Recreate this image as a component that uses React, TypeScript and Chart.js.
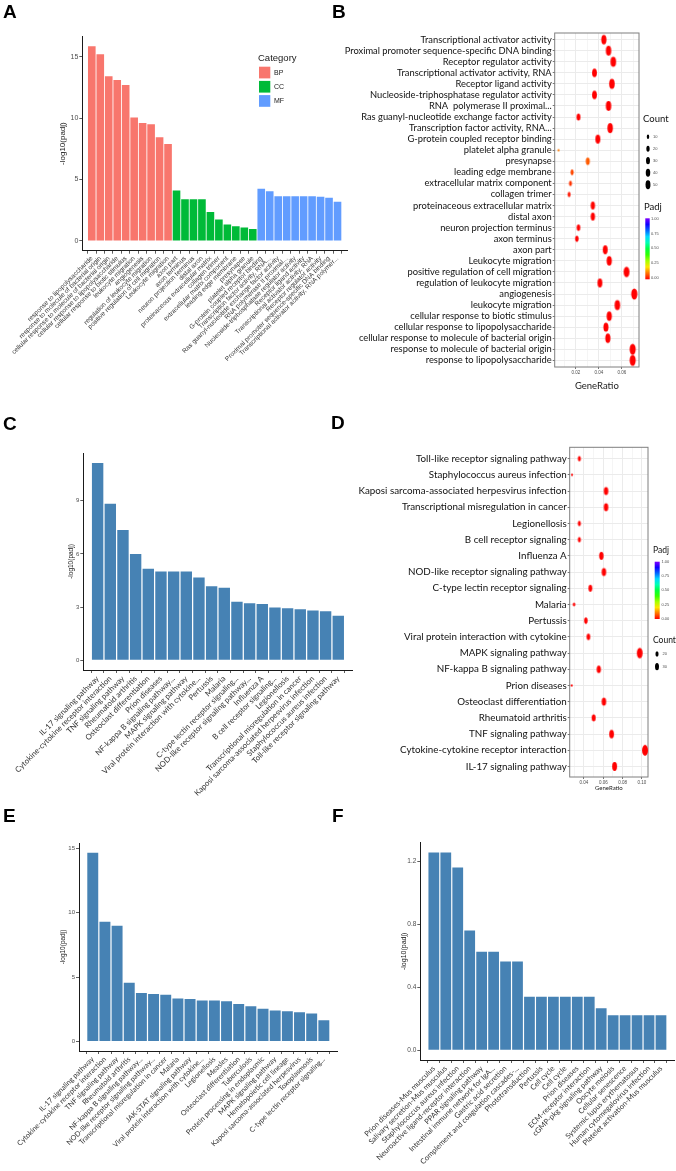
import React, { useEffect, useRef } from 'react';
import { Chart, registerables } from 'chart.js';

Chart.register(...registerables);

const ARIAL = '"Liberation Sans", Arial, Helvetica, sans-serif';
const LATO = 'Lato, "Open Sans", "Liberation Sans", sans-serif';

/* ---------------- Panel A : GO bars ---------------- */
const goTermsA = [
  'response to lipopolysaccharide',
  'response to molecule of bacterial origin',
  'cellular response to molecule of bacterial origin',
  'cellular response to lipopolysaccharide',
  'cellular response to biotic stimulus',
  'leukocyte migration',
  'angiogenesis',
  'regulation of leukocyte migration',
  'positive regulation of cell migration',
  'Leukocyte migration',
  'axon part',
  'axon terminus',
  'neuron projection terminus',
  'distal axon',
  'proteinaceous extracellular matrix',
  'collagen trimer',
  'extracellular matrix component',
  'leading edge membrane',
  'presynapse',
  'platelet alpha granule',
  'G-protein coupled receptor binding',
  'Transcription factor activity, RNA...',
  'Ras guanyl-nucleotide exchange factor activity',
  'RNA polymerase II proximal...',
  'Nucleoside-triphosphatase regulator activity',
  'Receptor ligand activity',
  'Transcriptional activator activity, RNA',
  'Receptor regulator activity',
  'Proximal promoter sequence-specific DNA binding',
  'Transcriptional activator activity, RNA polymer...',
];
const goBP = [15.85, 15.2, 13.4, 13.1, 12.7, 10.05, 9.6, 9.5, 8.45, 7.9];
const goCC = [4.1, 3.4, 3.4, 3.4, 2.35, 1.75, 1.35, 1.2, 1.1, 0.97];
const goMF = [4.26, 4.05, 3.65, 3.65, 3.65, 3.65, 3.65, 3.6, 3.52, 3.2];
const goGroups = ['BP', 'CC', 'MF'];
const goGroupColors = ['#F8766D', '#00BA38', '#619CFF'];
const goTicksA = [0, 5, 10, 15];

/* ---------------- Panel B : GO dot plot (bottom -> top) ---------------- */
const goTermsB = [
  'response to lipopolysaccharide',
  'response to molecule of bacterial origin',
  'cellular response to molecule of bacterial origin',
  'cellular response to lipopolysaccharide',
  'cellular response to biotic stimulus',
  'leukocyte migration',
  'angiogenesis',
  'regulation of leukocyte migration',
  'positive regulation of cell migration',
  'Leukocyte migration',
  'axon part',
  'axon terminus',
  'neuron projection terminus',
  'distal axon',
  'proteinaceous extracellular matrix',
  'collagen trimer',
  'extracellular matrix component',
  'leading edge membrane',
  'presynapse',
  'platelet alpha granule',
  'G-protein coupled receptor binding',
  'Transcription factor activity, RNA...',
  'Ras guanyl-nucleotide exchange factor activity',
  'RNA  polymerase II proximal...',
  'Nucleoside-triphosphatase regulator activity',
  'Receptor ligand activity',
  'Transcriptional activator activity, RNA',
  'Receptor regulator activity',
  'Proximal promoter sequence-specific DNA binding',
  'Transcriptional activator activity',
];
const geneRatioB = [
  0.0693, 0.0693, 0.0478, 0.0461, 0.049, 0.056, 0.0707, 0.0409, 0.064, 0.049,
  0.0455, 0.0209, 0.0223, 0.0348, 0.0348, 0.0142, 0.0154, 0.0168, 0.0304, 0.005,
  0.0391, 0.0498, 0.0223, 0.0484, 0.0362, 0.0513, 0.0362, 0.0525, 0.0484, 0.0443,
];
const countB = [
  49, 49, 33, 32, 34, 39, 50, 29, 45, 34,
  29, 13, 14, 22, 22, 9, 10, 11, 19, 3,
  30, 38, 17, 37, 28, 39, 28, 40, 37, 34,
];
const padjB = [
  1e-16, 1e-15, 4e-14, 6e-14, 2e-13, 8e-11, 2e-10, 3e-10, 3e-9, 1e-8,
  8e-5, 4e-4, 4e-4, 4e-4, 0.0045, 0.018, 0.045, 0.063, 0.079, 0.107,
  5e-5, 9e-5, 2e-4, 2e-4, 2e-4, 2e-4, 2e-4, 2.5e-4, 3e-4, 6e-4,
];
const ratioMajorB = [0.02, 0.04, 0.06];
const ratioGridB = [0.01, 0.02, 0.03, 0.04, 0.05, 0.06, 0.07];
const countLegendB = [10, 20, 30, 40, 50];
const padjLegendTicks = [1, 0.75, 0.5, 0.25, 0];

/* ---------------- Panel C : KEGG bars ---------------- */
const keggTermsC = [
  'IL-17 signaling pathway',
  'Cytokine-cytokine receptor interaction',
  'TNF signaling pathway',
  'Rheumatoid arthritis',
  'Osteoclast differentiation',
  'Prion diseases',
  'NF-kappa B signaling pathway...',
  'MAPK signaling pathway',
  'Viral protein interaction with cytokine...',
  'Pertussis',
  'Malaria',
  'C-type lectin receptor signaling...',
  'NOD-like receptor signaling pathway...',
  'Influenza A',
  'B cell receptor signaling...',
  'Legionellosis',
  'Transcriptional misregulation in cancer',
  'Kaposi sarcoma-associated herpesvirus infection',
  'Staphylococcus aureus infection',
  'Toll-like receptor signaling pathway',
];
const keggValuesC = [11.14, 8.84, 7.35, 6.0, 5.16, 5.01, 5.01, 5.01, 4.67, 4.17, 4.09, 3.3, 3.21, 3.17, 2.97, 2.93, 2.87, 2.8, 2.76, 2.51];
const keggTicksC = [0, 3, 6, 9];

/* ---------------- Panel D : KEGG dot plot (bottom -> top) ---------------- */
const keggTermsD = [
  'IL-17 signaling pathway',
  'Cytokine-cytokine receptor interaction',
  'TNF signaling pathway',
  'Rheumatoid arthritis',
  'Osteoclast differentiation',
  'Prion diseases',
  'NF-kappa B signaling pathway',
  'MAPK signaling pathway',
  'Viral protein interaction with cytokine',
  'Pertussis',
  'Malaria',
  'C-type lectin receptor signaling',
  'NOD-like receptor signaling pathway',
  'Influenza A',
  'B cell receptor signaling',
  'Legionellosis',
  'Transcriptional misregulation in cancer',
  'Kaposi sarcoma-associated herpesvirus infection',
  'Staphylococcus aureus infection',
  'Toll-like receptor signaling pathway',
];
const geneRatioD = [0.0717, 0.1032, 0.0686, 0.05, 0.0606, 0.0272, 0.0553, 0.0977, 0.0446, 0.0419, 0.0297, 0.0466, 0.0606, 0.058, 0.0352, 0.0352, 0.0628, 0.0628, 0.0276, 0.0352];
const countD = [24, 35, 23, 17, 21, 7, 19, 33, 15, 14, 9, 16, 21, 20, 12, 12, 21, 21, 7, 12];
const padjD = [7e-12, 1.4e-9, 4.5e-8, 1e-6, 7e-6, 1e-5, 1e-5, 1e-5, 2e-5, 7e-5, 8e-5, 5e-4, 6e-4, 7e-4, 1.1e-3, 1.2e-3, 1.3e-3, 1.6e-3, 1.7e-3, 3.1e-3];
const ratioMajorD = [0.04, 0.06, 0.08, 0.1];
const ratioGridD = [0.03, 0.04, 0.05, 0.06, 0.07, 0.08, 0.09, 0.1];
const countLegendD = [20, 30];

/* ---------------- Panel E : KEGG bars ---------------- */
const keggTermsE = [
  'IL-17 signaling pathway',
  'Cytokine-cytokine receptor interaction',
  'TNF signaling pathway',
  'Rheumatoid arthritis',
  'NF-kappa B signaling pathway...',
  'NOD-like receptor signaling pathway...',
  'Transcriptional misregulation in cancer',
  'Malaria',
  'JAK-STAT signaling pathway',
  'Viral protein interaction with cytokine...',
  'Legionellosis',
  'Measles',
  'Osteoclast differentiation',
  'Tuberculosis',
  'Protein processing in endoplasmic',
  'MAPK signaling pathway',
  'Hematopoietic cell lineage',
  'Kaposi sarcoma-associated herpesvirus',
  'Toxoplasmosis',
  'C-type lectin receptor signaling...',
];
const keggValuesE = [14.64, 9.28, 8.97, 4.56, 3.77, 3.69, 3.63, 3.33, 3.3, 3.19, 3.19, 3.12, 2.92, 2.73, 2.55, 2.4, 2.35, 2.27, 2.17, 1.65];
const keggTicksE = [0, 5, 10, 15];

/* ---------------- Panel F : KEGG bars ---------------- */
const keggTermsF = [
  'Prion diseases-Mus musculus',
  'Salivary secretion-Mus musculus',
  'Staphylococcus aureus infection',
  'Neuroactive ligand-receptor interaction',
  'PPAR signaling pathway',
  'Intestinal immune network for IgA...',
  'Gastric acid secretion',
  'Complement and coagulation cascades-...',
  'Phototransduction',
  'Pertussis',
  'Cell cycle',
  'Cell cycle',
  'Prion diseases',
  'ECM-receptor interaction',
  'cGMP-pkg signaling pathway',
  'Oocyte meiosis',
  'Cellular senescence',
  'Systemic lupus erythematosus',
  'Human cytomegalovirus infection',
  'Platelet activation-Mus musculus',
];
const keggValuesF = [1.255, 1.255, 1.16, 0.76, 0.626, 0.626, 0.563, 0.563, 0.34, 0.34, 0.34, 0.34, 0.34, 0.34, 0.267, 0.222, 0.222, 0.222, 0.222, 0.222];
const keggTicksF = [0, 0.4, 0.8, 1.2];

/* ---------------- helpers ---------------- */
function padjColor(p: number) {
  const t = Math.max(0, Math.min(1, p));
  return `hsl(${(t * 270).toFixed(1)}, 100%, 50%)`;
}

function ellipseSprite(rx: number, ry: number, color: string) {
  const w = Math.ceil(rx * 2) + 2;
  const h = Math.ceil(ry * 2) + 2;
  const c = document.createElement('canvas');
  c.width = w;
  c.height = h;
  const g = c.getContext('2d')!;
  g.fillStyle = color;
  g.beginPath();
  g.ellipse(w / 2, h / 2, rx, ry, 0, 0, Math.PI * 2);
  g.fill();
  return c;
}

function drawEllipse(ctx: CanvasRenderingContext2D, x: number, y: number, rx: number, ry: number, color: string) {
  ctx.fillStyle = color;
  ctx.beginPath();
  ctx.ellipse(x, y, rx, ry, 0, 0, Math.PI * 2);
  ctx.fill();
}

function drawColorbar(ctx: CanvasRenderingContext2D, x: number, y: number, w: number, h: number) {
  const g = ctx.createLinearGradient(0, y + h, 0, y);
  for (let i = 0; i <= 10; i++) g.addColorStop(i / 10, padjColor(i / 10));
  ctx.fillStyle = g;
  ctx.fillRect(x, y, w, h);
}

function sizeScale(counts: number[], rMin: number, rMax: number) {
  const cMin = Math.min(...counts);
  const cMax = Math.max(...counts);
  return (c: number) => rMin + (rMax - rMin) * Math.sqrt(Math.max(0, (c - cMin) / (cMax - cMin)));
}

const axisGrid = { display: true, drawOnChartArea: false, drawTicks: true, tickLength: 3, tickColor: '#333', tickWidth: 0.8 };
const axisBorder = { display: true, color: '#1a1a1a', width: 1 };

function buildBar(p: any) {
  const { W, H, cl, cr, ct, cb } = p.geo;
  const n = p.labels.length;
  return {
    type: 'bar',
    data: {
      datasets: p.datasets.map((d: any) => ({
        ...d,
        barPercentage: 0.9,
        categoryPercentage: 1,
        borderWidth: 0,
        grouped: false,
      })),
    },
    options: {
      responsive: false,
      animation: false,
      devicePixelRatio: 1,
      layout: { padding: { left: 0, top: ct, right: W - cr, bottom: 0 } },
      plugins: { legend: { display: false }, tooltip: { enabled: false } },
      scales: {
        x: {
          type: 'linear',
          bounds: 'data',
          min: 0.4,
          max: n + 0.6,
          afterBuildTicks: (s: any) => {
            s.ticks = p.labels.map((_: string, i: number) => ({ value: i + 1 }));
          },
          afterFit: (s: any) => {
            s.height = H - cb;
          },
          ticks: {
            autoSkip: false,
            minRotation: 45,
            maxRotation: 45,
            padding: 1,
            color: '#333',
            font: p.xFont,
            callback: (_v: any, i: number) => p.labels[i],
          },
          grid: axisGrid,
          border: axisBorder,
        },
        y: {
          type: 'linear',
          bounds: 'data',
          min: p.yMin,
          max: p.yMax,
          afterBuildTicks: (s: any) => {
            s.ticks = p.yTicks.map((v: number) => ({ value: v }));
          },
          afterFit: (s: any) => {
            s.width = cl;
          },
          ticks: {
            padding: 1,
            color: '#4d4d4d',
            font: { family: ARIAL, size: p.yTickSize },
            callback: p.yFmt || ((v: number) => String(v)),
          },
          grid: axisGrid,
          border: axisBorder,
          title: {
            display: true,
            text: '-log10(padj)',
            color: '#1a1a1a',
            font: { family: ARIAL, size: p.titleSize },
            padding: { top: p.titleX - (p.titleSize * 1.2) / 2, bottom: 0 },
          },
        },
      },
    },
    plugins: p.plugins || [],
  };
}

const boxPlugin = {
  id: 'panelBox',
  beforeDatasetsDraw(chart: any) {
    const { ctx, chartArea: a } = chart;
    ctx.save();
    ctx.strokeStyle = '#7f7f7f';
    ctx.lineWidth = 1;
    ctx.strokeRect(a.left, a.top, a.right - a.left, a.bottom - a.top);
    ctx.restore();
  },
};

function buildDot(p: any) {
  const { W, H, cl, cr, ct, cb } = p.geo;
  const size = p.size;
  const ry = p.counts.map((c: number) => Math.max(1.3, size(c)));
  const sprites = p.counts.map((_: number, i: number) =>
    ellipseSprite(Math.max(0.9, ry[i] * 0.55), ry[i], padjColor(p.padj[i]))
  );
  const isMajor = (v: number) => p.xMajor.some((m: number) => Math.abs(m - v) < 1e-9);
  return {
    type: 'scatter',
    data: {
      datasets: [
        {
          data: p.ratio.map((x: number, i: number) => ({ x, y: i + 1 })),
          pointStyle: (c: any) => sprites[c.dataIndex],
          pointRadius: (c: any) => Math.max(1, ry[c.dataIndex] || 1),
          clip: false,
        },
      ],
    },
    options: {
      responsive: false,
      animation: false,
      devicePixelRatio: 1,
      layout: { padding: { left: 0, top: ct, right: W - cr, bottom: 0 } },
      plugins: { legend: { display: false }, tooltip: { enabled: false } },
      scales: {
        x: {
          type: 'linear',
          bounds: 'data',
          min: p.xMin,
          max: p.xMax,
          afterBuildTicks: (s: any) => {
            s.ticks = p.xGrid.map((v: number) => ({ value: v }));
          },
          afterFit: (s: any) => {
            s.height = H - cb;
          },
          ticks: {
            autoSkip: false,
            minRotation: 0,
            maxRotation: 0,
            padding: 1,
            color: '#4d4d4d',
            font: { family: ARIAL, size: p.xTickSize },
            callback: (v: number) => (isMajor(v) ? v.toFixed(2) : ''),
          },
          grid: {
            color: '#ebebeb',
            lineWidth: (c: any) => (c.tick && isMajor(c.tick.value) ? 1 : 0.5),
            drawTicks: true,
            tickLength: 2,
            tickColor: (c: any) => (c.tick && isMajor(c.tick.value) ? '#777' : 'rgba(0,0,0,0)'),
          },
          border: { display: false },
          title: {
            display: true,
            text: 'GeneRatio',
            color: '#1a1a1a',
            font: { family: LATO, size: p.titleSize },
            padding: { top: 0, bottom: p.titlePadBottom },
          },
        },
        y: {
          type: 'linear',
          bounds: 'data',
          min: p.yMin,
          max: p.yMax,
          afterBuildTicks: (s: any) => {
            s.ticks = p.terms.map((_: string, i: number) => ({ value: i + 1 }));
          },
          afterFit: (s: any) => {
            s.width = cl;
          },
          ticks: {
            autoSkip: false,
            padding: 1,
            color: '#111',
            font: { family: LATO, size: p.labelSize },
            callback: (_v: any, i: number) => p.terms[i],
          },
          grid: { color: '#ebebeb', lineWidth: 1, drawTicks: true, tickLength: 2, tickColor: '#777' },
          border: { display: false },
        },
      },
    },
    plugins: [boxPlugin, p.legend],
  };
}

/* ---------------- panel builders ---------------- */
function buildA() {
  let start = 0;
  const datasets = [goBP, goCC, goMF].map((vals, g) => {
    const ds = {
      label: goGroups[g],
      backgroundColor: goGroupColors[g],
      data: vals.map((v, i) => ({ x: start + i + 1, y: v })),
    };
    start += vals.length;
    return ds;
  });
  const legendA = {
    id: 'legendA',
    afterDraw(chart: any) {
      const ctx = chart.ctx;
      ctx.save();
      ctx.textBaseline = 'middle';
      ctx.textAlign = 'left';
      ctx.fillStyle = '#1a1a1a';
      ctx.font = `9.5px ${ARIAL}`;
      ctx.fillText('Category', 258, 58);
      goGroups.forEach((g, i) => {
        const y = 66.7 + i * 14.2;
        ctx.fillStyle = goGroupColors[i];
        ctx.fillRect(259, y, 11.3, 11.7);
        ctx.fillStyle = '#1a1a1a';
        ctx.font = `7px ${ARIAL}`;
        ctx.fillText(g, 274, y + 6);
      });
      ctx.restore();
    },
  };
  return buildBar({
    geo: { W: 350, H: 390, cl: 82.3, cr: 347, ct: 36.5, cb: 250.7 },
    labels: goTermsA,
    datasets,
    yMin: -0.79,
    yMax: 16.64,
    yTicks: goTicksA,
    yTickSize: 7,
    titleSize: 8,
    titleX: 63,
    xFont: { family: ARIAL, size: 6.5 },
    plugins: [legendA],
  });
}

function buildB() {
  const size = sizeScale(countB, 1, 5.6);
  const ox = 338;
  const legend = {
    id: 'legendB',
    afterDraw(chart: any) {
      const ctx = chart.ctx;
      ctx.save();
      ctx.textBaseline = 'middle';
      ctx.textAlign = 'left';
      ctx.fillStyle = '#111';
      ctx.font = `9.5px ${LATO}`;
      ctx.fillText('Count', 643 - ox, 119);
      countLegendB.forEach((c, i) => {
        const y = 136.7 + i * 12;
        const r = size(c) * 0.8;
        drawEllipse(ctx, 648 - ox, y, r * 0.55, r, '#000');
        ctx.fillStyle = '#4d4d4d';
        ctx.font = `4px ${ARIAL}`;
        ctx.fillText(String(c), 653 - ox, y);
      });
      ctx.fillStyle = '#111';
      ctx.font = `9.5px ${LATO}`;
      ctx.fillText('Padj', 644 - ox, 206.7);
      drawColorbar(ctx, 645.3 - ox, 218.3, 4.4, 61);
      ctx.fillStyle = '#4d4d4d';
      ctx.font = `4px ${ARIAL}`;
      padjLegendTicks.forEach((t) => {
        ctx.fillText(t.toFixed(2), 651 - ox, 277.7 - t * 58.7);
      });
      ctx.restore();
    },
  };
  return buildDot({
    geo: { W: 338, H: 400, cl: 216.7, cr: 301, ct: 33, cb: 367 },
    terms: goTermsB,
    ratio: geneRatioB,
    counts: countB,
    padj: padjB,
    size,
    xMin: 0.0017,
    xMax: 0.0748,
    xMajor: ratioMajorB,
    xGrid: ratioGridB,
    yMin: 0.4,
    yMax: 30.6,
    xTickSize: 4.5,
    labelSize: 9.35,
    titleSize: 9.5,
    titlePadBottom: 8,
    legend,
  });
}

function buildC() {
  return buildBar({
    geo: { W: 365, H: 410, cl: 83.3, cr: 352.6, ct: 53, cb: 270 },
    labels: keggTermsC,
    datasets: [{ label: 'KEGG', backgroundColor: '#4682B4', data: keggValuesC.map((v, i) => ({ x: i + 1, y: v })) }],
    yMin: -0.557,
    yMax: 11.7,
    yTicks: keggTicksC,
    yTickSize: 6,
    titleSize: 6.5,
    titleX: 71.5,
    xFont: { family: LATO, size: 7.8 },
  });
}

function buildD() {
  const size = sizeScale(countD, 0.9, 5.4);
  const ox = 338;
  const oy = 400;
  const legend = {
    id: 'legendD',
    afterDraw(chart: any) {
      const ctx = chart.ctx;
      ctx.save();
      ctx.textBaseline = 'middle';
      ctx.textAlign = 'left';
      ctx.fillStyle = '#111';
      ctx.font = `8.5px ${LATO}`;
      ctx.fillText('Padj', 653 - ox, 550 - oy);
      drawColorbar(ctx, 654.7 - ox, 561.7 - oy, 5, 57.3);
      ctx.fillStyle = '#4d4d4d';
      ctx.font = `4px ${ARIAL}`;
      padjLegendTicks.forEach((t) => {
        ctx.fillText(t.toFixed(2), 661.5 - ox, 619 - oy - t * 57.3);
      });
      ctx.fillStyle = '#111';
      ctx.font = `8.5px ${LATO}`;
      ctx.fillText('Count', 653 - ox, 640.7 - oy);
      countLegendD.forEach((c, i) => {
        const y = 654 + i * 12.7 - oy;
        const r = size(c) * 0.72;
        drawEllipse(ctx, 657 - ox, y, r * 0.55, r, '#000');
        ctx.fillStyle = '#4d4d4d';
        ctx.font = `4px ${ARIAL}`;
        ctx.fillText(String(c), 662.5 - ox, y);
      });
      ctx.restore();
    },
  };
  return buildDot({
    geo: { W: 338, H: 400, cl: 231.7, cr: 310, ct: 47.3, cb: 377 },
    terms: keggTermsD,
    ratio: geneRatioD,
    counts: countD,
    padj: padjD,
    size,
    xMin: 0.0252,
    xMax: 0.1063,
    xMajor: ratioMajorD,
    xGrid: ratioGridD,
    yMin: 0.35,
    yMax: 20.7,
    xTickSize: 4.5,
    labelSize: 9.8,
    titleSize: 6,
    titlePadBottom: 8.4,
    legend,
  });
}

function buildE() {
  return buildBar({
    geo: { W: 345, H: 371, cl: 79, cr: 337.6, ct: 43, cb: 251 },
    labels: keggTermsE,
    datasets: [{ label: 'KEGG', backgroundColor: '#4682B4', data: keggValuesE.map((v, i) => ({ x: i + 1, y: v })) }],
    yMin: -0.73,
    yMax: 15.39,
    yTicks: keggTicksE,
    yTickSize: 6,
    titleSize: 6.5,
    titleX: 63.5,
    xFont: { family: LATO, size: 7.2 },
  });
}

function buildF() {
  return buildBar({
    geo: { W: 338, H: 371, cl: 82.3, cr: 336.5, ct: 42.7, cb: 260 },
    labels: keggTermsF,
    datasets: [{ label: 'KEGG', backgroundColor: '#4682B4', data: keggValuesF.map((v, i) => ({ x: i + 1, y: v })) }],
    yMin: -0.0616,
    yMax: 1.318,
    yTicks: keggTicksF,
    yFmt: (v: number) => v.toFixed(1),
    yTickSize: 6.5,
    titleSize: 7,
    titleX: 66.5,
    xFont: { family: LATO, size: 7.5 },
  });
}

function ChartCanvas({ x, y, w, h, build }: any) {
  const ref = useRef<HTMLCanvasElement | null>(null);
  useEffect(() => {
    if (!ref.current) return;
    const chart = new Chart(ref.current, build());
    return () => chart.destroy();
  }, [build]);
  return (
    <canvas
      ref={ref}
      width={w}
      height={h}
      style={{ position: 'absolute', left: x, top: y, width: w, height: h, display: 'block' }}
    />
  );
}

const panelLetters: [string, number, number][] = [
  ['A', 3, 2],
  ['B', 332, 2],
  ['C', 3, 414],
  ['D', 331, 413],
  ['E', 3, 806],
  ['F', 332, 806],
];

export default function App() {
  return (
    <div style={{ position: 'absolute', left: 0, top: 0, width: 676, height: 1171, background: '#fff', overflow: 'hidden' }}>
      <ChartCanvas x={0} y={0} w={350} h={390} build={buildA} />
      <ChartCanvas x={338} y={0} w={338} h={400} build={buildB} />
      <ChartCanvas x={0} y={400} w={365} h={410} build={buildC} />
      <ChartCanvas x={338} y={400} w={338} h={400} build={buildD} />
      <ChartCanvas x={0} y={800} w={345} h={371} build={buildE} />
      <ChartCanvas x={338} y={800} w={338} h={371} build={buildF} />
      {panelLetters.map(([t, l, tp]) => (
        <div
          key={t}
          style={{
            position: 'absolute',
            left: l,
            top: tp,
            font: `bold 19px ${ARIAL}`,
            lineHeight: '19px',
            color: '#000',
          }}
        >
          {t}
        </div>
      ))}
    </div>
  );
}
